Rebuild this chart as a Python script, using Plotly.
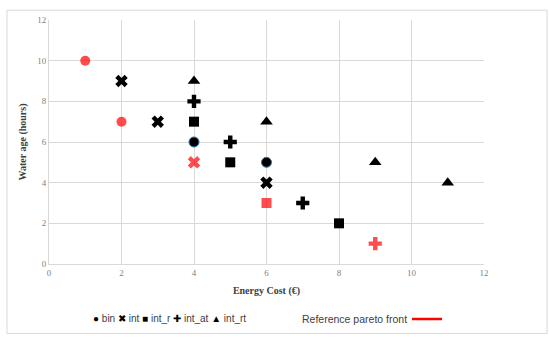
import plotly.graph_objects as go

# Series data (x = energy cost, y = water age)
bin_x = [4, 6]
bin_y = [6, 5]
int_x = [2, 3, 6]
int_y = [9, 7, 4]
int_r_x = [4, 5, 8]
int_r_y = [7, 5, 2]
int_at_x = [4, 5, 7]
int_at_y = [8, 6, 3]
int_rt_x = [4, 6, 9, 11]
int_rt_y = [9, 7, 5, 4]

# Reference pareto front points (red)
ref_x = [1, 2, 4, 6, 9]
ref_y = [10, 7, 5, 3, 1]
ref_symbols = ["circle", "circle", "x", "square", "cross"]

x_ticks = [0, 2, 4, 6, 8, 10, 12]
y_ticks = [0, 2, 4, 6, 8, 10, 12]

series_names = ["bin", "int", "int_r", "int_at", "int_rt"]
legend_glyphs = ["●", "✖", "■", "✚", "▲"]

fig = go.Figure()

fig.add_trace(go.Scatter(x=bin_x, y=bin_y, mode="markers", name="bin", showlegend=False,
                         marker=dict(symbol="circle", size=10, color="black",
                                     line=dict(color="#2E75B6", width=1))))
fig.add_trace(go.Scatter(x=int_x, y=int_y, mode="markers", name="int", showlegend=False,
                         marker=dict(symbol="x", size=11, color="black", line=dict(width=0))))
fig.add_trace(go.Scatter(x=int_r_x, y=int_r_y, mode="markers", name="int_r", showlegend=False,
                         marker=dict(symbol="square", size=10, color="black", line=dict(width=0))))
fig.add_trace(go.Scatter(x=int_at_x, y=int_at_y, mode="markers", name="int_at", showlegend=False,
                         marker=dict(symbol="cross", size=11, color="black", line=dict(width=0))))
fig.add_trace(go.Scatter(x=int_rt_x, y=int_rt_y, mode="markers", name="int_rt", showlegend=False,
                         marker=dict(symbol="triangle-up", size=11, color="black", line=dict(width=0))))
fig.add_trace(go.Scatter(x=ref_x, y=ref_y, mode="markers", name="Reference pareto front",
                         showlegend=False,
                         marker=dict(symbol=ref_symbols, size=[10, 10, 11, 10, 11], color="#FF0000",
                                     line=dict(width=0))))
fig.add_trace(go.Scatter(x=[None], y=[None], mode="lines", name=" ", showlegend=True,
                         line=dict(color="#FF0000", width=2.5)))

legend_text = " ".join(
    f"<span style='color:black'>{g}</span> {n}" for g, n in zip(legend_glyphs, series_names)
)

grid = "#D9D9D9"
fig.update_layout(
    width=550, height=343,
    margin=dict(l=49, r=66, t=20, b=79),
    paper_bgcolor="white", plot_bgcolor="white",
    showlegend=True,
    xaxis=dict(range=[0, 12], tickvals=x_ticks, showgrid=True, gridcolor=grid, gridwidth=1,
               zeroline=False, showline=True, linecolor=grid, ticks="", automargin=False,
               tickfont=dict(family="Liberation Serif", size=9, color="#7F7F7F"),
               title=dict(text="<b>Energy Cost (€)</b>", standoff=10,
                          font=dict(family="Liberation Serif", size=10, color="#404040"))),
    yaxis=dict(range=[0, 12], tickvals=y_ticks, showgrid=True, gridcolor=grid, gridwidth=1,
               zeroline=False, showline=True, linecolor=grid, ticks="", automargin=False,
               tickfont=dict(family="Liberation Serif", size=9, color="#7F7F7F"),
               title=dict(text="<b>Water age (hours)</b>", standoff=8,
                          font=dict(family="Liberation Serif", size=10, color="#404040"))),
    legend=dict(orientation="h", xref="container", yref="container",
                x=0.74, y=0.07, xanchor="left", yanchor="middle",
                font=dict(family="Liberation Sans", size=10, color="#404040"),
                itemwidth=30, bgcolor="rgba(0,0,0,0)"),
    annotations=[
        dict(text=legend_text, xref="paper", yref="paper",
             x=0.278, y=-0.225, xanchor="center", yanchor="middle", showarrow=False,
             font=dict(family="Liberation Sans", size=10, color="#404040")),
        dict(text="Reference pareto front", xref="paper", yref="paper",
             x=0.828, y=-0.225, xanchor="right", yanchor="middle", showarrow=False,
             font=dict(family="Liberation Sans", size=10.5, color="#404040")),
    ],
    shapes=[dict(type="rect", xref="paper", yref="paper", x0=-0.0966, x1=1.145,
                 y0=-0.285, y1=1.04, line=dict(color="#D9D9D9", width=1), layer="below")],
)

fig.write_html("out.html", post_script="document.body.style.margin='0';",
               config={"displayModeBar": False})
